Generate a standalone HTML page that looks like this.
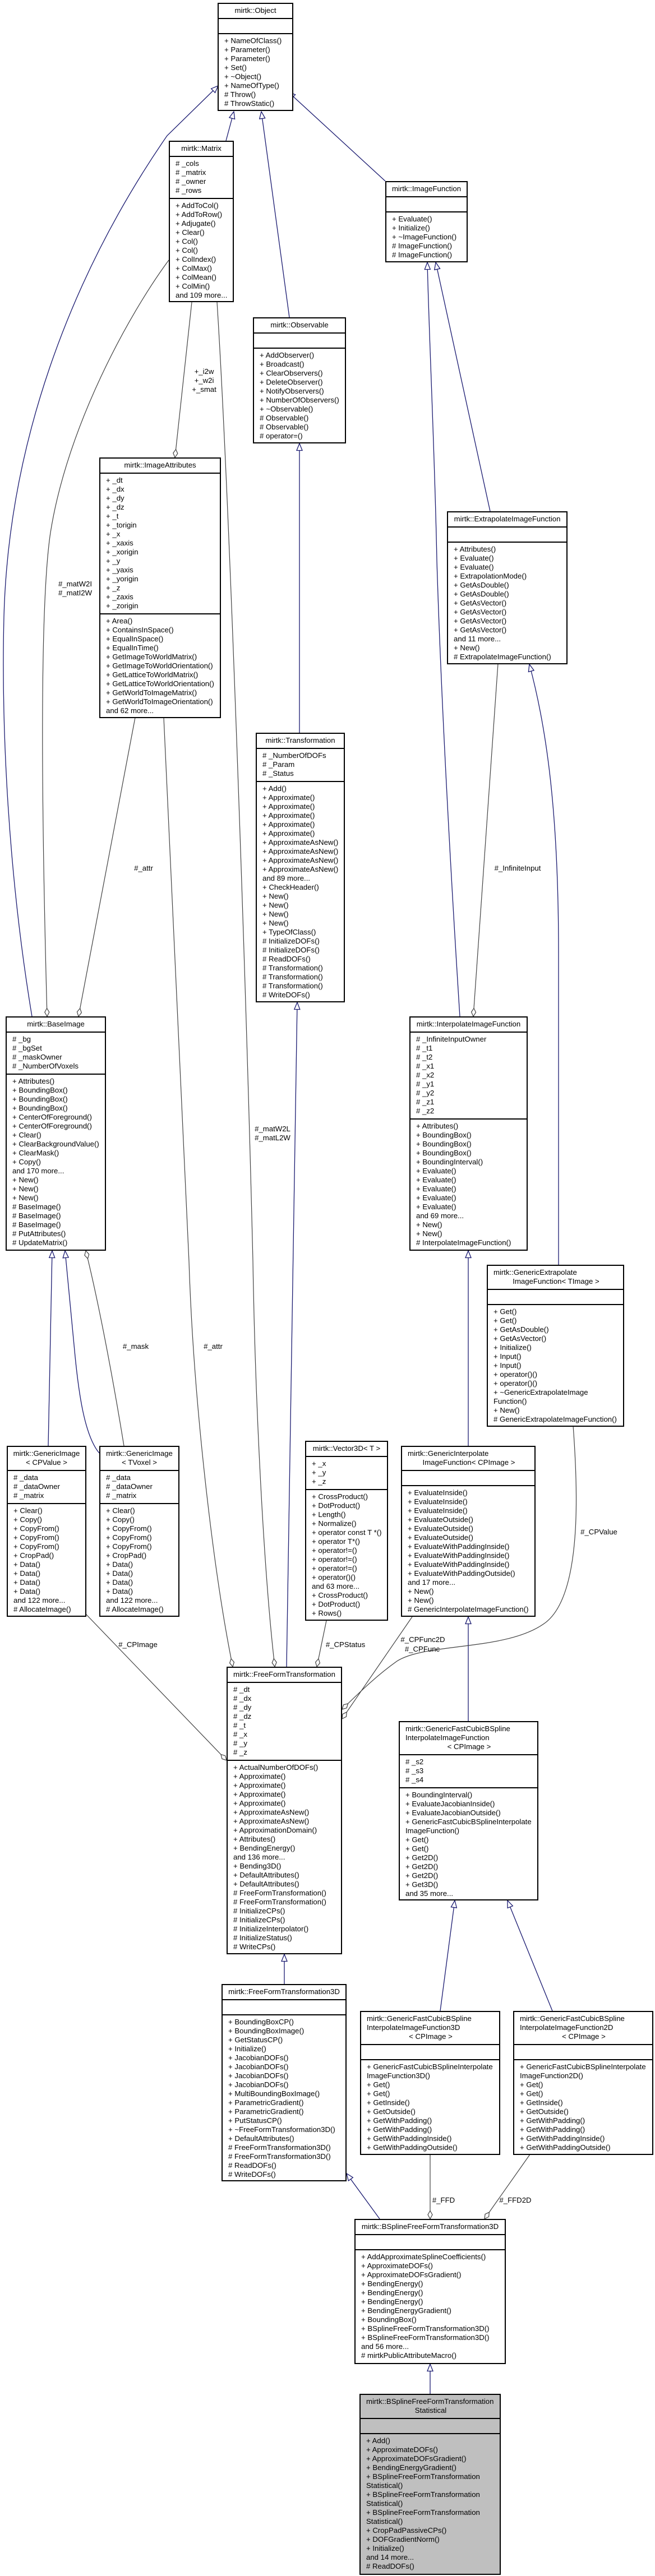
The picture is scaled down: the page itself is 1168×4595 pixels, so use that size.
<!DOCTYPE html>
<html><head><meta charset="utf-8"><style>
html,body{margin:0;padding:0;background:#fff}
body{width:1168px;height:4595px;position:relative;overflow:hidden;font-family:"Liberation Sans",Arial,sans-serif;font-size:13.2px;color:#000}
svg{position:absolute;left:0;top:0}
.b{position:absolute;border:2px solid #000;background:#fff;display:flex;flex-direction:column;box-sizing:border-box;white-space:nowrap;overflow:hidden}
.t{padding:4px 8px 5px 10px;line-height:16px;border-bottom:2px solid #000;text-align:left}
.t div:last-child{text-align:center}
.t.c{text-align:center;padding-left:4px;padding-right:4px}
.s{padding:4px 0 5px 10px;line-height:16px;border-bottom:2px solid #000;min-height:27px;box-sizing:border-box}
.s:last-child{border-bottom:none;flex:1}
.g{background:#bfbfbf}
</style></head><body>
<svg width="1168" height="4595" viewBox="0 0 1168 4595">
<defs>
<marker id="tri" markerUnits="userSpaceOnUse" markerWidth="14" markerHeight="12" viewBox="0 0 14 12" refX="13.5" refY="6" orient="auto"><path d="M1,1 L13.5,6 L1,11 z" fill="#fff" stroke="#191970" stroke-width="1.3"/></marker>
<marker id="dia" markerUnits="userSpaceOnUse" markerWidth="16" markerHeight="10" viewBox="0 0 16 10" refX="15.5" refY="5" orient="auto"><path d="M1,5 L8,1 L15.5,5 L8,9 z" fill="#fff" stroke="#404040" stroke-width="1.2"/></marker>
</defs>
<g fill="none" stroke="#191970" stroke-width="1.3" marker-end="url(#tri)">
<path d="M403,251 L417,199"/>
<path d="M516,566 L466,199"/>
<path d="M687,323 L514,164"/>
<path d="M57,1813 C15,1560 2,1300 7,1100 C15,800 120,500 298,242 L389,153"/>
<path d="M534,1307 L534,791"/>
<path d="M874,912 L777,468"/>
<path d="M820,1813 C800,1500 785,1200 779,1000 C775,800 765,600 762,468"/>
<path d="M996,2256 L996,1700 C996,1450 975,1300 944,1185"/>
<path d="M86,2579 L93,2231"/>
<path d="M177,2592 C150,2560 140,2480 134,2420 L116,2231"/>
<path d="M835,2579 L835,2231"/>
<path d="M511,2973 L530,1788"/>
<path d="M835,3070 L835,2884"/>
<path d="M507,3539 L507,3486"/>
<path d="M785,3587 L811,3390"/>
<path d="M985,3587 L905,3390"/>
<path d="M677,3958 L618,3877"/>
<path d="M767,4270 L767,4217"/>
</g>
<g fill="none" stroke="#404040" stroke-width="1.2" marker-end="url(#dia)">
<path d="M342,539 L312,816"/>
<path d="M301,464 C230,560 120,760 90,950 C75,1050 70,1300 84,1813"/>
<path d="M387,539 C410,900 440,1800 451,2250 C455,2500 470,2800 490,2973"/>
<path d="M241,1280 L140,1813"/>
<path d="M292,1280 C310,1700 330,2100 337,2250 C345,2500 380,2800 415,2973"/>
<path d="M221,2579 C200,2450 175,2320 153,2231"/>
<path d="M153,2879 L404,3140"/>
<path d="M582,2891 L565,2973"/>
<path d="M735,2884 L610,3066"/>
<path d="M1022,2543 C1030,2650 1040,2850 969,2897 C900,2945 760,2930 708,2963 C670,2990 640,3020 610,3049"/>
<path d="M888,1184 L844,1813"/>
<path d="M767,3843 L767,3958"/>
<path d="M945,3843 L864,3958"/>
</g>
<g font-family="Liberation Sans, Arial, sans-serif" font-size="13.2" fill="#000" text-anchor="middle">
<text x="364" y="667">+_i2w</text><text x="364" y="683">+_w2i</text><text x="364" y="699">+_smat</text>
<text x="134" y="1046">#_matW2I</text><text x="134" y="1062">#_matI2W</text>
<text x="256" y="1553">#_attr</text>
<text x="923" y="1553">#_InfiniteInput</text>
<text x="486" y="2018">#_matW2L</text><text x="486" y="2034">#_matL2W</text>
<text x="242" y="2406">#_mask</text><text x="380" y="2406">#_attr</text>
<text x="1068" y="2737">#_CPValue</text>
<text x="246" y="2938">#_CPImage</text><text x="616" y="2938">#_CPStatus</text>
<text x="754" y="2929">#_CPFunc2D</text><text x="753" y="2946">#_CPFunc</text>
<text x="791" y="3929">#_FFD</text><text x="919" y="3929">#_FFD2D</text>
</g>
</svg>

<div class="b" style="left:388px;top:5px;width:135px;height:193px"><div class="t c">mirtk::Object</div><div class="s"></div><div class="s">+ NameOfClass()<br>+ Parameter()<br>+ Parameter()<br>+ Set()<br>+ ~Object()<br>+ NameOfType()<br># Throw()<br># ThrowStatic()</div></div>

<div class="b" style="left:301px;top:251px;width:116px;height:288px"><div class="t c">mirtk::Matrix</div><div class="s"># _cols<br># _matrix<br># _owner<br># _rows</div><div class="s">+ AddToCol()<br>+ AddToRow()<br>+ Adjugate()<br>+ Clear()<br>+ Col()<br>+ Col()<br>+ ColIndex()<br>+ ColMax()<br>+ ColMean()<br>+ ColMin()<br>and 109 more...</div></div>

<div class="b" style="left:451px;top:566px;width:166px;height:225px"><div class="t c">mirtk::Observable</div><div class="s"></div><div class="s">+ AddObserver()<br>+ Broadcast()<br>+ ClearObservers()<br>+ DeleteObserver()<br>+ NotifyObservers()<br>+ NumberOfObservers()<br>+ ~Observable()<br># Observable()<br># Observable()<br># operator=()</div></div>

<div class="b" style="left:687px;top:323px;width:147px;height:145px"><div class="t c">mirtk::ImageFunction</div><div class="s"></div><div class="s">+ Evaluate()<br>+ Initialize()<br>+ ~ImageFunction()<br># ImageFunction()<br># ImageFunction()</div></div>

<div class="b" style="left:177px;top:816px;width:217px;height:465px"><div class="t c">mirtk::ImageAttributes</div><div class="s">+ _dt<br>+ _dx<br>+ _dy<br>+ _dz<br>+ _t<br>+ _torigin<br>+ _x<br>+ _xaxis<br>+ _xorigin<br>+ _y<br>+ _yaxis<br>+ _yorigin<br>+ _z<br>+ _zaxis<br>+ _zorigin</div><div class="s">+ Area()<br>+ ContainsInSpace()<br>+ EqualInSpace()<br>+ EqualInTime()<br>+ GetImageToWorldMatrix()<br>+ GetImageToWorldOrientation()<br>+ GetLatticeToWorldMatrix()<br>+ GetLatticeToWorldOrientation()<br>+ GetWorldToImageMatrix()<br>+ GetWorldToImageOrientation()<br>and 62 more...</div></div>

<div class="b" style="left:797px;top:912px;width:215px;height:273px"><div class="t c">mirtk::ExtrapolateImageFunction</div><div class="s"></div><div class="s">+ Attributes()<br>+ Evaluate()<br>+ Evaluate()<br>+ ExtrapolationMode()<br>+ GetAsDouble()<br>+ GetAsDouble()<br>+ GetAsVector()<br>+ GetAsVector()<br>+ GetAsVector()<br>+ GetAsVector()<br>and 11 more...<br>+ New()<br># ExtrapolateImageFunction()</div></div>

<div class="b" style="left:456px;top:1307px;width:159px;height:481px"><div class="t c">mirtk::Transformation</div><div class="s"># _NumberOfDOFs<br># _Param<br># _Status</div><div class="s">+ Add()<br>+ Approximate()<br>+ Approximate()<br>+ Approximate()<br>+ Approximate()<br>+ Approximate()<br>+ ApproximateAsNew()<br>+ ApproximateAsNew()<br>+ ApproximateAsNew()<br>+ ApproximateAsNew()<br>and 89 more...<br>+ CheckHeader()<br>+ New()<br>+ New()<br>+ New()<br>+ New()<br>+ TypeOfClass()<br># InitializeDOFs()<br># InitializeDOFs()<br># ReadDOFs()<br># Transformation()<br># Transformation()<br># Transformation()<br># WriteDOFs()</div></div>

<div class="b" style="left:10px;top:1813px;width:179px;height:418px"><div class="t c">mirtk::BaseImage</div><div class="s"># _bg<br># _bgSet<br># _maskOwner<br># _NumberOfVoxels</div><div class="s">+ Attributes()<br>+ BoundingBox()<br>+ BoundingBox()<br>+ BoundingBox()<br>+ CenterOfForeground()<br>+ CenterOfForeground()<br>+ Clear()<br>+ ClearBackgroundValue()<br>+ ClearMask()<br>+ Copy()<br>and 170 more...<br>+ New()<br>+ New()<br>+ New()<br># BaseImage()<br># BaseImage()<br># BaseImage()<br># PutAttributes()<br># UpdateMatrix()</div></div>

<div class="b" style="left:730px;top:1813px;width:211px;height:418px"><div class="t c">mirtk::InterpolateImageFunction</div><div class="s"># _InfiniteInputOwner<br># _t1<br># _t2<br># _x1<br># _x2<br># _y1<br># _y2<br># _z1<br># _z2</div><div class="s">+ Attributes()<br>+ BoundingBox()<br>+ BoundingBox()<br>+ BoundingBox()<br>+ BoundingInterval()<br>+ Evaluate()<br>+ Evaluate()<br>+ Evaluate()<br>+ Evaluate()<br>+ Evaluate()<br>and 69 more...<br>+ New()<br>+ New()<br># InterpolateImageFunction()</div></div>

<div class="b" style="left:868px;top:2256px;width:245px;height:289px"><div class="t"><div>mirtk::GenericExtrapolate</div><div>ImageFunction&lt; TImage &gt;</div></div><div class="s"></div><div class="s">+ Get()<br>+ Get()<br>+ GetAsDouble()<br>+ GetAsVector()<br>+ Initialize()<br>+ Input()<br>+ Input()<br>+ operator()()<br>+ operator()()<br>+ ~GenericExtrapolateImage<br>Function()<br>+ New()<br># GenericExtrapolateImageFunction()</div></div>

<div class="b" style="left:12px;top:2579px;width:142px;height:305px"><div class="t c"><div>mirtk::GenericImage</div><div>&lt; CPValue &gt;</div></div><div class="s"># _data<br># _dataOwner<br># _matrix</div><div class="s">+ Clear()<br>+ Copy()<br>+ CopyFrom()<br>+ CopyFrom()<br>+ CopyFrom()<br>+ CropPad()<br>+ Data()<br>+ Data()<br>+ Data()<br>+ Data()<br>and 122 more...<br># AllocateImage()</div></div>

<div class="b" style="left:177px;top:2579px;width:143px;height:305px"><div class="t c"><div>mirtk::GenericImage</div><div>&lt; TVoxel &gt;</div></div><div class="s"># _data<br># _dataOwner<br># _matrix</div><div class="s">+ Clear()<br>+ Copy()<br>+ CopyFrom()<br>+ CopyFrom()<br>+ CopyFrom()<br>+ CropPad()<br>+ Data()<br>+ Data()<br>+ Data()<br>+ Data()<br>and 122 more...<br># AllocateImage()</div></div>

<div class="b" style="left:544px;top:2570px;width:148px;height:321px"><div class="t c">mirtk::Vector3D&lt; T &gt;</div><div class="s">+ _x<br>+ _y<br>+ _z</div><div class="s">+ CrossProduct()<br>+ DotProduct()<br>+ Length()<br>+ Normalize()<br>+ operator const T *()<br>+ operator T*()<br>+ operator!=()<br>+ operator!=()<br>+ operator!=()<br>+ operator()()<br>and 63 more...<br>+ CrossProduct()<br>+ DotProduct()<br>+ Rows()</div></div>

<div class="b" style="left:715px;top:2579px;width:240px;height:305px"><div class="t"><div>mirtk::GenericInterpolate</div><div>ImageFunction&lt; CPImage &gt;</div></div><div class="s"></div><div class="s">+ EvaluateInside()<br>+ EvaluateInside()<br>+ EvaluateInside()<br>+ EvaluateOutside()<br>+ EvaluateOutside()<br>+ EvaluateOutside()<br>+ EvaluateWithPaddingInside()<br>+ EvaluateWithPaddingInside()<br>+ EvaluateWithPaddingInside()<br>+ EvaluateWithPaddingOutside()<br>and 17 more...<br>+ New()<br>+ New()<br># GenericInterpolateImageFunction()</div></div>

<div class="b" style="left:404px;top:2973px;width:206px;height:513px"><div class="t c">mirtk::FreeFormTransformation</div><div class="s"># _dt<br># _dx<br># _dy<br># _dz<br># _t<br># _x<br># _y<br># _z</div><div class="s">+ ActualNumberOfDOFs()<br>+ Approximate()<br>+ Approximate()<br>+ Approximate()<br>+ Approximate()<br>+ ApproximateAsNew()<br>+ ApproximateAsNew()<br>+ ApproximationDomain()<br>+ Attributes()<br>+ BendingEnergy()<br>and 136 more...<br>+ Bending3D()<br>+ DefaultAttributes()<br>+ DefaultAttributes()<br># FreeFormTransformation()<br># FreeFormTransformation()<br># InitializeCPs()<br># InitializeCPs()<br># InitializeInterpolator()<br># InitializeStatus()<br># WriteCPs()</div></div>

<div class="b" style="left:711px;top:3070px;width:249px;height:320px"><div class="t"><div>mirtk::GenericFastCubicBSpline</div><div style="text-align:left">InterpolateImageFunction</div><div>&lt; CPImage &gt;</div></div><div class="s"># _s2<br># _s3<br># _s4</div><div class="s">+ BoundingInterval()<br>+ EvaluateJacobianInside()<br>+ EvaluateJacobianOutside()<br>+ GenericFastCubicBSplineInterpolate<br>ImageFunction()<br>+ Get()<br>+ Get()<br>+ Get2D()<br>+ Get2D()<br>+ Get2D()<br>+ Get3D()<br>and 35 more...</div></div>

<div class="b" style="left:395px;top:3539px;width:223px;height:352px"><div class="t c">mirtk::FreeFormTransformation3D</div><div class="s"></div><div class="s">+ BoundingBoxCP()<br>+ BoundingBoxImage()<br>+ GetStatusCP()<br>+ Initialize()<br>+ JacobianDOFs()<br>+ JacobianDOFs()<br>+ JacobianDOFs()<br>+ JacobianDOFs()<br>+ MultiBoundingBoxImage()<br>+ ParametricGradient()<br>+ ParametricGradient()<br>+ PutStatusCP()<br>+ ~FreeFormTransformation3D()<br>+ DefaultAttributes()<br># FreeFormTransformation3D()<br># FreeFormTransformation3D()<br># ReadDOFs()<br># WriteDOFs()</div></div>

<div class="b" style="left:642px;top:3587px;width:250px;height:257px"><div class="t"><div>mirtk::GenericFastCubicBSpline</div><div style="text-align:left">InterpolateImageFunction3D</div><div>&lt; CPImage &gt;</div></div><div class="s"></div><div class="s">+ GenericFastCubicBSplineInterpolate<br>ImageFunction3D()<br>+ Get()<br>+ Get()<br>+ GetInside()<br>+ GetOutside()<br>+ GetWithPadding()<br>+ GetWithPadding()<br>+ GetWithPaddingInside()<br>+ GetWithPaddingOutside()</div></div>

<div class="b" style="left:915px;top:3587px;width:250px;height:257px"><div class="t"><div>mirtk::GenericFastCubicBSpline</div><div style="text-align:left">InterpolateImageFunction2D</div><div>&lt; CPImage &gt;</div></div><div class="s"></div><div class="s">+ GenericFastCubicBSplineInterpolate<br>ImageFunction2D()<br>+ Get()<br>+ Get()<br>+ GetInside()<br>+ GetOutside()<br>+ GetWithPadding()<br>+ GetWithPadding()<br>+ GetWithPaddingInside()<br>+ GetWithPaddingOutside()</div></div>

<div class="b" style="left:632px;top:3958px;width:270px;height:259px"><div class="t c">mirtk::BSplineFreeFormTransformation3D</div><div class="s"></div><div class="s">+ AddApproximateSplineCoefficients()<br>+ ApproximateDOFs()<br>+ ApproximateDOFsGradient()<br>+ BendingEnergy()<br>+ BendingEnergy()<br>+ BendingEnergy()<br>+ BendingEnergyGradient()<br>+ BoundingBox()<br>+ BSplineFreeFormTransformation3D()<br>+ BSplineFreeFormTransformation3D()<br>and 56 more...<br># mirtkPublicAttributeMacro()</div></div>

<div class="b g" style="left:641px;top:4270px;width:252px;height:323px"><div class="t"><div>mirtk::BSplineFreeFormTransformation</div><div>Statistical</div></div><div class="s"></div><div class="s">+ Add()<br>+ ApproximateDOFs()<br>+ ApproximateDOFsGradient()<br>+ BendingEnergyGradient()<br>+ BSplineFreeFormTransformation<br>Statistical()<br>+ BSplineFreeFormTransformation<br>Statistical()<br>+ BSplineFreeFormTransformation<br>Statistical()<br>+ CropPadPassiveCPs()<br>+ DOFGradientNorm()<br>+ Initialize()<br>and 14 more...<br># ReadDOFs()</div></div>

</body></html>
